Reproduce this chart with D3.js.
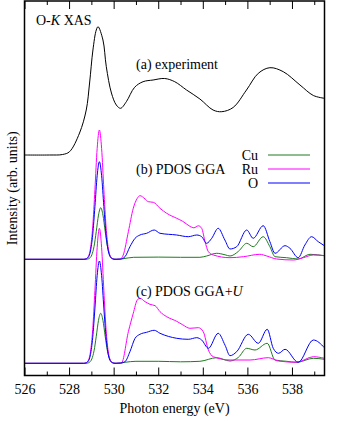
<!DOCTYPE html>
<html>
  <head>
    <style>
    body { margin: 0px; overflow: hidden; background: white; }
    svg, svg text { font-family: "Liberation Serif", "Times New Roman", Tinos, "DejaVu Serif", serif; font-size: 14px; fill: black; }
    .tick line { stroke: black; stroke-width: 1; }
    .domain { display: none; }
    </style>
    <script src="https://d3js.org/d3.v7.min.js"></script>
  </head>
  <body>
    <svg width="350" height="421"></svg>
    <script>
    // photon energy ticks (eV)
    const majorTicks = [526, 528, 530, 532, 534, 536, 538];
    const minorTicks = [527, 529, 531, 533, 535, 537, 539];

    // (a) experiment, O-K XAS  [eV, intensity]
    const expData = [
      [526.0, 0], [527.12, 0], [527.71, 0.05], [528.02, 0.33], [528.47, 2.2], [528.77, 4.5],
      [528.92, 7.2], [529.07, 10.5], [529.22, 12.5], [529.30, 12.83], [529.52, 11.5], [529.67, 8.83],
      [529.90, 6.2], [530.12, 5.0], [530.31, 4.67], [530.57, 5.33], [530.94, 6.77], [531.32, 7.33],
      [531.77, 7.5], [532.29, 7.65], [532.74, 7.33], [533.27, 6.5], [533.87, 5.6], [534.46, 4.5],
      [534.85, 4.33], [535.36, 4.75], [535.96, 6.5], [536.49, 8.17], [537.01, 8.73], [537.61, 8.33],
      [538.36, 7.0], [538.96, 5.95], [539.46, 5.67]
    ];

    // (b) PDOS GGA
    const ggaCu = [
      [526, 0], [528.72, 0], [528.82, 0.02], [528.92, 0.11], [529.02, 0.44], [529.12, 1.29], [529.22, 2.79],
      [529.32, 4.42], [529.42, 5.16], [529.52, 4.42], [529.62, 2.79], [529.72, 1.29], [529.82, 0.44],
      [529.92, 0.11], [530.02, 0.02], [530.12, 0], [530.4, 0.05], [530.9, 0.2], [532.0, 0.22], [533.0, 0.2],
      [533.87, 0.2], [534.17, 0.33], [534.62, 0.6], [535.0, 0.45], [535.22, 0.33], [535.6, 0.8],
      [535.97, 1.6], [536.26, 1.26], [536.71, 2.26], [537.01, 1.26], [537.24, 0.26], [537.76, 0.16],
      [538.28, 0.03], [538.81, 0.5], [539.46, 0.36]
    ];
    const ggaRu = [
      [526, 0], [528.66, 0], [528.76, 0.05], [528.86, 0.27], [528.96, 1.10], [529.06, 3.23], [529.16, 6.98],
      [529.26, 11.08], [529.36, 12.93], [529.46, 11.08], [529.56, 6.98], [529.66, 3.23], [529.76, 1.10],
      [529.86, 0.27], [529.96, 0.05], [530.06, 0], [530.3, 0.02], [530.43, 0.43], [530.66, 2.76],
      [530.88, 5.1], [531.06, 6.1], [531.18, 6.36], [531.41, 6.03], [531.55, 5.76], [531.78, 5.7],
      [532.08, 5.1], [532.38, 4.6], [532.83, 4.1], [533.1, 3.8], [533.42, 3.3], [533.6, 3.15],
      [533.80, 3.35], [533.95, 3.1], [534.10, 1.76], [534.25, 0.76], [534.47, 0.43], [535.22, 0.16],
      [535.82, 0.26], [536.56, 0.5], [536.87, 0.33], [537.31, 0.03], [538.06, -0.07], [538.51, 0.16],
      [538.96, 0.43], [539.46, 0.36]
    ];
    const ggaO = [
      [526, 0], [528.66, 0], [528.76, 0.04], [528.86, 0.20], [528.96, 0.83], [529.06, 2.44], [529.16, 5.27],
      [529.26, 8.36], [529.36, 9.76], [529.46, 8.36], [529.56, 5.27], [529.66, 2.44], [529.76, 0.83],
      [529.86, 0.20], [529.96, 0.04], [530.06, 0], [530.3, 0.02], [530.51, 0.26], [530.73, 1.26],
      [530.96, 2.1], [531.18, 2.43], [531.48, 2.6], [531.82, 2.93], [532.08, 2.6], [532.83, 2.43],
      [533.35, 2.26], [533.73, 2.43], [533.95, 2.26], [534.17, 1.6], [534.40, 2.1], [534.69, 3.1],
      [534.99, 1.93], [535.22, 1.03], [535.52, 1.26], [535.97, 2.93], [536.26, 2.1], [536.71, 3.36],
      [537.01, 1.76], [537.24, 0.6], [537.69, 1.36], [537.91, 1.1], [538.28, 0.16], [538.58, 1.43],
      [538.88, 2.26], [539.18, 1.76], [539.46, 1.35]
    ];

    // (c) PDOS GGA+U
    const ggaUCu = [
      [526, 0], [528.72, 0], [528.82, 0.02], [528.92, 0.11], [529.02, 0.43], [529.12, 1.25], [529.22, 2.70],
      [529.32, 4.29], [529.42, 5.0], [529.52, 4.29], [529.62, 2.70], [529.72, 1.25], [529.82, 0.43],
      [529.92, 0.11], [530.02, 0.02], [530.12, 0], [530.5, 0.1], [531.0, 0.2], [532.0, 0.2], [533.0, 0.15],
      [533.87, 0.2], [534.62, 0.56], [535.22, 0.23], [535.6, 0.6], [535.97, 1.5], [536.34, 1.33],
      [536.89, 2.0], [537.24, 0.33], [537.76, 0.2], [538.21, 0.1], [538.96, 0.5], [539.46, 0.4]
    ];
    const ggaURu = [
      [526, 0], [528.66, 0], [528.76, 0.05], [528.86, 0.28], [528.96, 1.15], [529.06, 3.38], [529.16, 7.29],
      [529.26, 11.57], [529.36, 13.5], [529.46, 11.57], [529.56, 7.29], [529.66, 3.38], [529.76, 1.15],
      [529.86, 0.28], [529.96, 0.05], [530.06, 0], [530.35, 0.02], [530.66, 3.16], [530.88, 5.0],
      [531.06, 6.33], [531.18, 6.5], [531.41, 6.16], [531.63, 5.9], [531.86, 5.76], [532.08, 5.16],
      [532.38, 4.66], [532.83, 4.2], [533.1, 3.85], [533.42, 3.5], [533.80, 3.56], [534.02, 3.16],
      [534.25, 1.33], [534.47, 0.66], [535.22, 0.33], [536.12, 0.33], [536.94, 0.56], [537.39, 0.23],
      [538.21, 0.1], [538.96, 0.66], [539.46, 0.5]
    ];
    const ggaUO = [
      [526, 0], [528.66, 0], [528.76, 0.04], [528.86, 0.21], [528.96, 0.87], [529.06, 2.56], [529.16, 5.52],
      [529.26, 8.77], [529.36, 10.23], [529.46, 8.77], [529.56, 5.52], [529.66, 2.56], [529.76, 0.87],
      [529.86, 0.21], [529.96, 0.04], [530.06, 0], [530.3, 0.02], [530.51, 0.16], [530.73, 1.16],
      [530.96, 2.5], [531.18, 2.9], [531.48, 3.1], [531.82, 3.3], [532.08, 3.0], [532.83, 2.5],
      [533.35, 2.4], [533.73, 2.56], [533.95, 2.33], [534.25, 1.5], [534.69, 3.0], [535.0, 1.8],
      [535.22, 0.76], [535.52, 1.16], [536.04, 2.9], [536.49, 2.0], [536.89, 3.4], [537.16, 1.5],
      [537.4, 1.0], [537.69, 1.4], [538.28, 0.1], [538.96, 2.33], [539.46, 1.55]
    ];

    const legendNames = ['Cu', 'Ru', 'O'];
    const colors = ['#1e7b1e', '#ff00ff', '#0000ff'];
    const serif = '"Liberation Serif", "Times New Roman", Tinos, "DejaVu Serif", serif';

    const svg = d3.select('svg');
    const margin = { top: 1, right: 25.5, bottom: 45.5, left: 24.5 };
    const width = 350, height = 421;
    const innerWidth = width - margin.left - margin.right;
    const innerHeight = height - margin.top - margin.bottom;

    const xScale = d3.scaleLinear().domain([526, 539.46]).range([0, innerWidth]);
    const yScale = d3.scaleLinear().domain([0, 37.45]).range([innerHeight, 0]);

    // vertical offsets of the three stacked spectra
    const offsets = { exp: 22.05, gga: 11.62, ggaU: 1.22 };

    const g = svg.append('g')
      .attr('transform', `translate(${margin.left},${margin.top})`);

    const lineFor = (off, curve) => d3.line()
      .x(d => xScale(d[0]))
      .y(d => yScale(d[1] + off))
      .curve(curve);

    // experiment
    g.append('path')
      .datum(expData)
      .attr('fill', 'none')
      .attr('stroke', 'black')
      .attr('stroke-width', 1)
      .attr('d', lineFor(offsets.exp, d3.curveCatmullRom.alpha(0.5)));

    const panels = [
      { off: offsets.gga, series: [ggaCu, ggaRu, ggaO] },
      { off: offsets.ggaU, series: [ggaUCu, ggaURu, ggaUO] }
    ];
    panels.forEach(p => {
      p.series.forEach((s, i) => {
        g.append('path')
          .datum(s)
          .attr('fill', 'none')
          .attr('stroke', colors[i])
          .attr('stroke-width', 1)
          .attr('d', lineFor(p.off, d3.curveMonotoneX));
      });
    });

    // axes, ticks pointing inward
    const bottomMajor = d3.axisBottom(xScale).tickValues(majorTicks)
      .tickSizeInner(-8).tickSizeOuter(0).tickPadding(9).tickFormat(d3.format('d'));
    const bottomMinor = d3.axisBottom(xScale).tickValues(minorTicks)
      .tickSizeInner(-4).tickSizeOuter(0).tickFormat('');
    const topMajor = d3.axisTop(xScale).tickValues(majorTicks)
      .tickSizeInner(-8).tickSizeOuter(0).tickFormat('');
    const topMinor = d3.axisTop(xScale).tickValues(minorTicks)
      .tickSizeInner(-4).tickSizeOuter(0).tickFormat('');

    const xAxisG = g.append('g').attr('transform', `translate(0,${innerHeight})`).call(bottomMajor)
      .attr('font-family', serif).attr('font-size', 14);
    xAxisG.selectAll('text').style('font-family', serif).style('font-size', '14px');
    g.append('g').attr('transform', `translate(0,${innerHeight})`).call(bottomMinor);
    g.append('g').call(topMajor);
    g.append('g').call(topMinor);

    // frame
    g.append('rect')
      .attr('width', innerWidth)
      .attr('height', innerHeight)
      .attr('fill', 'none')
      .attr('stroke', 'black')
      .attr('stroke-width', 1.5);

    // axis labels
    g.append('text')
      .attr('x', innerWidth / 2)
      .attr('y', 413 - margin.top)
      .attr('text-anchor', 'middle')
      .text('Photon energy (eV)');

    svg.append('text')
      .attr('transform', `translate(17,${margin.top + innerHeight / 2}) rotate(-90)`)
      .attr('text-anchor', 'middle')
      .text('Intensity (arb. units)');

    // panel labels
    const t1 = svg.append('text').attr('x', 36).attr('y', 25);
    t1.append('tspan').text('O-');
    t1.append('tspan').attr('font-style', 'italic').text('K');
    t1.append('tspan').text(' XAS');

    svg.append('text').attr('x', 136).attr('y', 69).text('(a) experiment');
    svg.append('text').attr('x', 136).attr('y', 174).text('(b) PDOS GGA');
    const t3 = svg.append('text').attr('x', 136).attr('y', 296);
    t3.append('tspan').text('(c) PDOS GGA+');
    t3.append('tspan').attr('font-style', 'italic').text('U');

    // legend
    const legend = svg.append('g');
    legendNames.forEach((name, i) => {
      const ly = 155 + i * 14;
      legend.append('text')
        .attr('x', 258)
        .attr('y', ly + 4.5)
        .attr('text-anchor', 'end')
        .text(name);
      legend.append('line')
        .attr('x1', 268).attr('x2', 310)
        .attr('y1', ly).attr('y2', ly)
        .attr('stroke', colors[i])
        .attr('stroke-width', 1);
    });
    </script>
  </body>
</html>
